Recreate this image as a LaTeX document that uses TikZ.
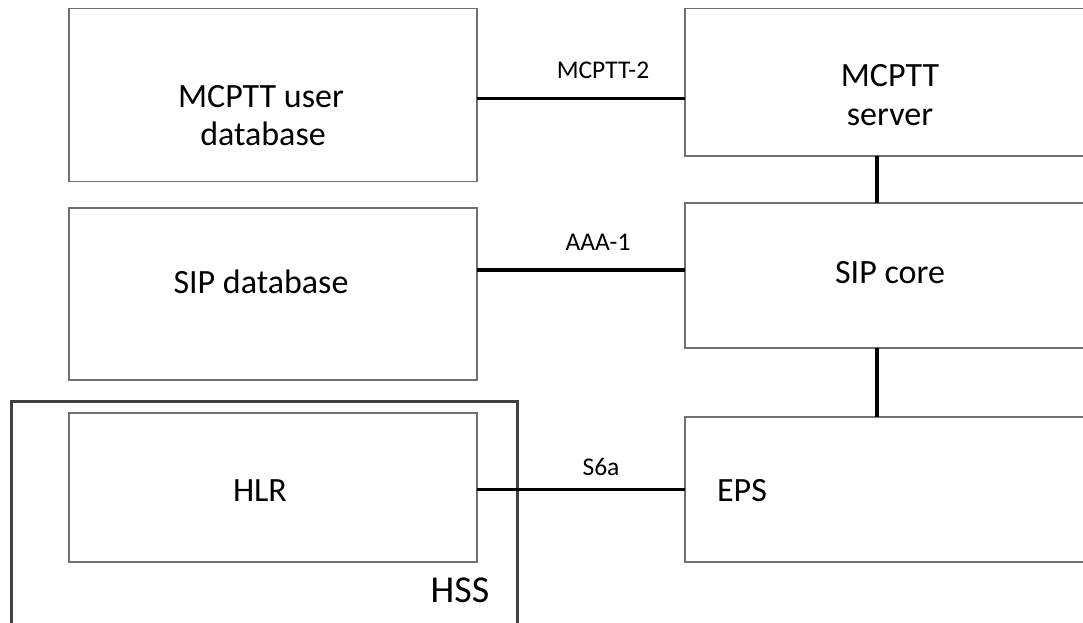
\documentclass[tikz,border=0pt]{standalone}
\usepackage{fontspec}
\setmainfont{Carlito}
\definecolor{boxgray}{HTML}{707070}
\definecolor{hssgray}{HTML}{404040}
\begin{document}
\begin{tikzpicture}[x=1pt,y=-1pt,
  box/.style={draw=boxgray, line width=1.4pt, inner sep=0pt, outer sep=0pt},
  hssbox/.style={draw=hssgray, line width=3pt, inner sep=0pt, outer sep=0pt},
  conn/.style={draw=black, line width=3.2pt},
  big/.style={inner sep=0pt, anchor=base, font=\fontsize{34}{38}\selectfont},
  lbl/.style={inner sep=0pt, anchor=base, font=\fontsize{25.5}{29}\selectfont},
  hsslbl/.style={inner sep=0pt, anchor=base, font=\fontsize{38}{42}\selectfont}]
\useasboundingbox (0,0) rectangle (1083,622);
\begin{scope}
\clip (0,0) rectangle (1083,622);
% left boxes
\node[box, minimum width=408pt, minimum height=173pt] (udb) at (273,95) {};
\node[box, minimum width=408pt, minimum height=172pt] (sdb) at (273,294) {};
\node[hssbox, minimum width=505.5pt, minimum height=239pt] (hss) at (264.25,520.5) {};
\node[box, minimum width=408pt, minimum height=149pt] (hlr) at (273,487.5) {};
% right boxes
\node[box, minimum width=410pt, minimum height=147.5pt] (srv) at (890,82.25) {};
\node[box, minimum width=410pt, minimum height=145pt] (core) at (890,275.5) {};
\node[box, minimum width=410pt, minimum height=145pt] (eps) at (890,489.5) {};
\end{scope}
% texts
\node[big] (t1) at (261,107) {MCPTT user};
\node[big] (t2) at (263,145) {database};
\node[big] (t3) at (890,86) {MCPTT};
\node[big] (t4) at (890,125) {server};
\node[big] (t5) at (261,293) {SIP database};
\node[big] (t6) at (890,283) {SIP core};
\node[big] (t7) at (260,501) {HLR};
\node[big] (t8) at (742,501) {EPS};
\node[hsslbl] (t9) at (460,602.7) {HSS};
% connectors
\coordinate (c1) at (udb.east |- 0,98.3);
\draw[conn] (c1) -- (c1 -| srv.west);
\coordinate (c2) at (sdb.east |- 0,270);
\draw[conn] (c2) -- (c2 -| core.west);
\coordinate (c3) at (hlr.east |- eps.west);
\draw[conn] (c3) -- (eps.west);
\coordinate (v1) at (877,0);
\draw[conn] (v1 |- srv.south) -- (v1 |- core.north);
\draw[conn] (v1 |- core.south) -- (v1 |- eps.north);
% connector labels
\node[lbl] (l1) at (603,78) {MCPTT-2};
\node[lbl] (l2) at (598,250) {AAA-1};
\node[lbl] (l3) at (601,475) {S6a};
\end{tikzpicture}
\end{document}
